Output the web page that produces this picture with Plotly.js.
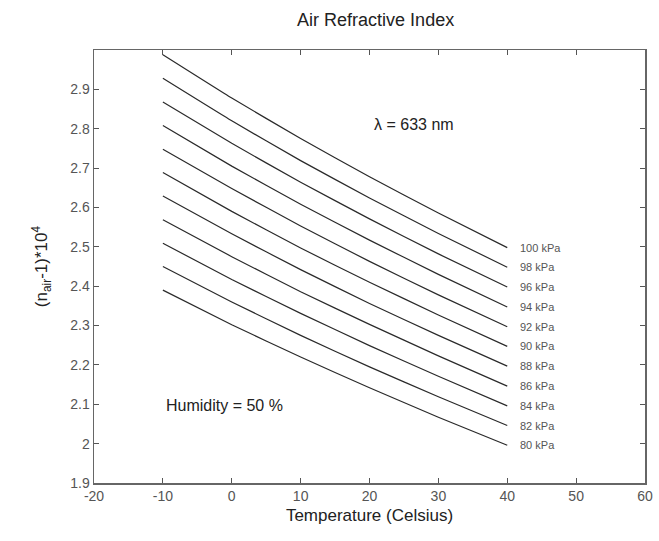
<!DOCTYPE html>
<html>
<head>
<meta charset="utf-8">
<script src="https://cdn.plot.ly/plotly-3.0.1.min.js"></script>
<style>html,body{margin:0;padding:0;background:#fff;}#chart{width:659px;height:541px;}</style>
</head>
<body>
<div id="chart"></div>
<script>
const temps = [-10, 0, 10, 20, 30, 40];
const pressures = ["100 kPa","98 kPa","96 kPa","94 kPa","92 kPa","90 kPa","88 kPa","86 kPa","84 kPa","82 kPa","80 kPa"];
const p100 = [2.988, 2.878, 2.775, 2.678, 2.586, 2.498];
const p98  = [2.928, 2.820, 2.719, 2.624, 2.534, 2.448];
const p96  = [2.868, 2.763, 2.664, 2.571, 2.482, 2.398];
const p94  = [2.808, 2.705, 2.608, 2.517, 2.430, 2.347];
const p92  = [2.748, 2.648, 2.553, 2.463, 2.378, 2.297];
const p90  = [2.689, 2.590, 2.497, 2.410, 2.327, 2.247];
const p88  = [2.629, 2.533, 2.442, 2.356, 2.275, 2.197];
const p86  = [2.569, 2.475, 2.386, 2.303, 2.223, 2.146];
const p84  = [2.509, 2.417, 2.331, 2.249, 2.171, 2.096];
const p82  = [2.450, 2.360, 2.275, 2.195, 2.119, 2.046];
const p80  = [2.390, 2.302, 2.220, 2.142, 2.067, 1.996];
const series = [p100, p98, p96, p94, p92, p90, p88, p86, p84, p82, p80];
const xTicks = [-20, -10, 0, 10, 20, 30, 40, 50, 60];
const yTicks = [1.9, 2.0, 2.1, 2.2, 2.3, 2.4, 2.5, 2.6, 2.7, 2.8, 2.9];
const yTickText = ["1.9","2","2.1","2.2","2.3","2.4","2.5","2.6","2.7","2.8","2.9"];

const FONT = "Liberation Sans, Arial, sans-serif";
const traces = series.map((s, i) => ({
  x: temps, y: s, type: "scatter", mode: "lines",
  line: {color: "#2a2a2a", width: 1.2, shape: "spline", smoothing: 0.4},
  name: pressures[i], showlegend: false, hoverinfo: "skip"
}));

const annotations = series.map((s, i) => ({
  x: 41.5, y: s[s.length - 1], xref: "x", yref: "y",
  text: pressures[i], showarrow: false, xanchor: "left", yanchor: "middle",
  font: {family: FONT, size: 11, color: "#555"}
}));
annotations.push({
  x: 20.3, y: 2.81, xref: "x", yref: "y", text: "λ = 633 nm", showarrow: false,
  xanchor: "left", yanchor: "middle", font: {family: FONT, size: 16, color: "#222"}
});
annotations.push({
  x: -9.8, y: 2.097, xref: "x", yref: "y", text: "Humidity = 50 %", showarrow: false,
  xanchor: "left", yanchor: "middle", font: {family: FONT, size: 16, color: "#222"}
});

const axisCommon = {
  showgrid: false, zeroline: false, showline: true, linecolor: "#666", linewidth: 1.5,
  mirror: "ticks", ticks: "inside", ticklen: 5, tickcolor: "#555", tickwidth: 1,
  tickfont: {family: FONT, size: 14, color: "#555"}
};

const layout = {
  width: 659, height: 541,
  margin: {l: 94, r: 14, t: 50, b: 58},
  paper_bgcolor: "#fff", plot_bgcolor: "#fff",
  title: {text: "Air Refractive Index", font: {family: FONT, size: 18, color: "#222"}, x: 0.57, xanchor: "center", y: 0.963, yanchor: "middle"},
  xaxis: Object.assign({}, axisCommon, {
    range: [-20, 60], tickvals: xTicks, ticktext: xTicks.map(String),
    title: {text: "Temperature (Celsius)", font: {family: FONT, size: 17, color: "#222"}, standoff: 6}
  }),
  yaxis: Object.assign({}, axisCommon, {
    range: [1.9, 3.0], tickvals: yTicks, ticktext: yTickText,
    title: {text: "(n<sub>air</sub>-1)*10<sup>4</sup>", font: {family: FONT, size: 17, color: "#222"}, standoff: 18}
  }),
  annotations: annotations
};

Plotly.newPlot("chart", traces, layout, {displayModeBar: false, staticPlot: true});
</script>
</body>
</html>
